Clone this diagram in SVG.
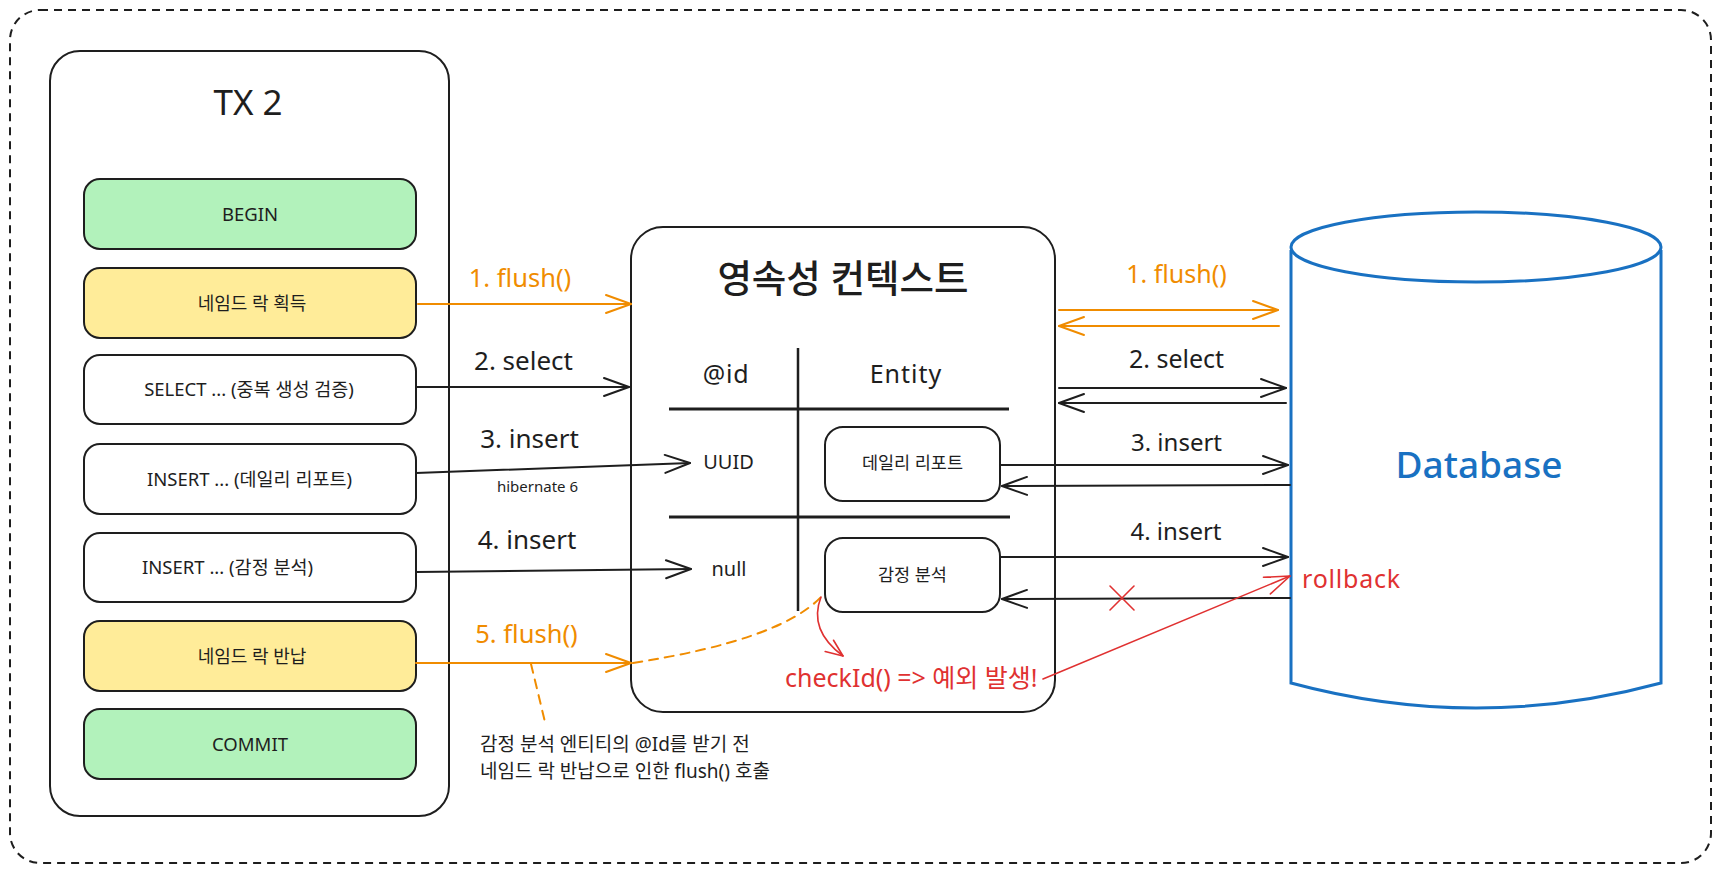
<svg xmlns="http://www.w3.org/2000/svg" width="1718" height="873" viewBox="0 0 1718 873">
<style>
.t{font-family:"Noto Sans","Noto Sans CJK KR",sans-serif;fill:#1e1e1e}
.m{text-anchor:middle}
.bx{stroke:#1e1e1e;stroke-width:2}
.ln{fill:none;stroke:#1e1e1e;stroke-width:2;stroke-linecap:round}
.or{stroke:#f08c00}
.rd{stroke:#e03131;stroke-width:1.6}
.ot{fill:#f08c00}
.rt{fill:#e03131}
</style>
<defs>
<marker id="ab" markerUnits="userSpaceOnUse" markerWidth="32" markerHeight="24" refX="27" refY="11" orient="auto"><path d="M2,2 L27,11 L2,20" fill="none" stroke="#1e1e1e" stroke-width="2" stroke-linecap="round" stroke-linejoin="round"/></marker>
<marker id="ao" markerUnits="userSpaceOnUse" markerWidth="32" markerHeight="24" refX="27" refY="11" orient="auto"><path d="M2,2 L27,11 L2,20" fill="none" stroke="#f08c00" stroke-width="2" stroke-linecap="round" stroke-linejoin="round"/></marker>
<marker id="ar" markerUnits="userSpaceOnUse" markerWidth="32" markerHeight="24" refX="27" refY="11" orient="auto"><path d="M2,2 L27,11 L2,20" fill="none" stroke="#e03131" stroke-width="1.6" stroke-linecap="round" stroke-linejoin="round"/></marker>
<marker id="ars" markerUnits="userSpaceOnUse" markerWidth="24" markerHeight="20" refX="19" refY="9" orient="auto"><path d="M2,2 L19,9 L2,16" fill="none" stroke="#e03131" stroke-width="1.6" stroke-linecap="round" stroke-linejoin="round"/></marker>
</defs>
<rect width="1718" height="873" fill="#ffffff"/>

<g id="frame">
<rect x="10" y="10" width="1701" height="853" rx="30" fill="none" stroke="#1e1e1e" stroke-width="2" stroke-dasharray="8 6"/>
</g>

<g id="tx2">
<rect x="50" y="51" width="399" height="765" rx="30" fill="#ffffff" class="bx"/>
<text x="248" y="115" class="t m" font-size="35">TX 2</text>
</g>

<g id="begin">
<rect x="84" y="179" width="332" height="70" rx="16" fill="#b2f2bb" class="bx"/>
<text x="250" y="221" class="t m" font-size="18.5">BEGIN</text>
</g>
<g id="lock-acquire">
<rect x="84" y="268" width="332" height="70" rx="16" fill="#ffec99" class="bx"/>
<text x="252" y="310" class="t m" font-size="18">네임드 락 획득</text>
</g>
<g id="select">
<rect x="84" y="355" width="332" height="69" rx="16" fill="#ffffff" class="bx"/>
<text x="249" y="396" class="t m" font-size="18.5">SELECT ... (중복 생성 검증)</text>
</g>
<g id="insert-daily">
<rect x="84" y="444" width="332" height="70" rx="16" fill="#ffffff" class="bx"/>
<text x="249.5" y="486" class="t m" font-size="18.5">INSERT ... (데일리 리포트)</text>
</g>
<g id="insert-emotion">
<rect x="84" y="533" width="332" height="69" rx="16" fill="#ffffff" class="bx"/>
<text x="142" y="574" class="t" font-size="18.5">INSERT ... (감정 분석)</text>
</g>
<g id="lock-release">
<rect x="84" y="621" width="332" height="70" rx="16" fill="#ffec99" class="bx"/>
<text x="252" y="663" class="t m" font-size="18">네임드 락 반납</text>
</g>
<g id="commit">
<rect x="84" y="709" width="332" height="70" rx="16" fill="#b2f2bb" class="bx"/>
<text x="250" y="751" class="t m" font-size="18.5">COMMIT</text>
</g>

<g id="persistence-context">
<rect x="631" y="227" width="424" height="485" rx="32" fill="#ffffff" class="bx"/>
<text x="843" y="292" class="t m" font-size="37.5" font-weight="500">영속성 컨텍스트</text>
<line x1="798" y1="348" x2="798" y2="611" stroke="#1e1e1e" stroke-width="2.5"/>
<line x1="669" y1="409" x2="1009" y2="409" stroke="#1e1e1e" stroke-width="2.8"/>
<line x1="669" y1="517" x2="1010" y2="517" stroke="#1e1e1e" stroke-width="2.8"/>
<text x="726" y="383" class="t m" font-size="25" letter-spacing="0.8">@id</text>
<text x="906" y="383" class="t m" font-size="25" letter-spacing="1">Entity</text>
<text x="728.5" y="469" class="t m" font-size="20">UUID</text>
<text x="729" y="576" class="t m" font-size="20">null</text>
</g>
<g id="entity-daily">
<rect x="825" y="427" width="175" height="74" rx="18" fill="#ffffff" class="bx"/>
<text x="912.5" y="469" class="t m" font-size="17.5">데일리 리포트</text>
</g>
<g id="entity-emotion">
<rect x="825" y="538" width="175" height="74" rx="18" fill="#ffffff" class="bx"/>
<text x="912.5" y="581" class="t m" font-size="17.5">감정 분석</text>
</g>

<g id="database">
<path d="M1291 250 L1291 683 Q1476 733 1661 683 L1661 250" fill="#ffffff" stroke="#1971c2" stroke-width="3"/>
<ellipse cx="1476" cy="247" rx="185" ry="35" fill="#ffffff" stroke="#1971c2" stroke-width="3"/>
<text x="1479" y="478" class="m" font-family="Noto Sans, Noto Sans CJK KR, sans-serif" font-size="37" font-weight="500" fill="#1971c2">Database</text>
</g>

<g id="connectors">
<path d="M418 304 L631 304" class="ln or" marker-end="url(#ao)"/>
<path d="M416 387 L629 387" class="ln" marker-end="url(#ab)"/>
<path d="M416 473 L690 463" class="ln" marker-end="url(#ab)"/>
<path d="M416 572 L691 569" class="ln" marker-end="url(#ab)"/>
<path d="M416 663 L631 663" class="ln or" marker-end="url(#ao)"/>
<path d="M633 663 Q780 640 821 597" class="ln or" stroke-dasharray="9 7"/>
<path d="M531 664 L545 722" class="ln or" stroke-dasharray="9 7"/>
<path d="M1059 310 L1278 310" class="ln or" marker-end="url(#ao)"/>
<path d="M1279 326 L1059 326" class="ln or" marker-end="url(#ao)"/>
<path d="M1059 388 L1286 388" class="ln" marker-end="url(#ab)"/>
<path d="M1286 403 L1059 403" class="ln" marker-end="url(#ab)"/>
<path d="M1000 465 L1288 465" class="ln" marker-end="url(#ab)"/>
<path d="M1290 485 L1002 486" class="ln" marker-end="url(#ab)"/>
<path d="M1000 557 L1288 557" class="ln" marker-end="url(#ab)"/>
<path d="M1290 598 L1002 599" class="ln" marker-end="url(#ab)"/>
<path d="M821 597 Q808 630 843 656" class="ln rd" marker-end="url(#ars)"/>
<path d="M1043 679 L1290 576" class="ln rd" marker-end="url(#ar)"/>
<path d="M1110 586 L1134 610 M1134 586 L1110 610" class="ln rd"/>
</g>

<g id="labels">
<text x="520" y="287" class="t m ot" font-size="25.5">1. flush()</text>
<text x="523.5" y="370" class="t m" font-size="26">2. select</text>
<text x="529.5" y="448" class="t m" font-size="26">3. insert</text>
<text x="537.5" y="492" class="t m" font-size="15">hibernate 6</text>
<text x="527" y="549" class="t m" font-size="26">4. insert</text>
<text x="526.5" y="643" class="t m ot" font-size="25.5">5. flush()</text>
<text x="1176.5" y="283" class="t m ot" font-size="25">1. flush()</text>
<text x="1176.5" y="368" class="t m" font-size="25">2. select</text>
<text x="1176.5" y="451" class="t m" font-size="24">3. insert</text>
<text x="1176" y="540" class="t m" font-size="24">4. insert</text>
<text x="785" y="687" class="t rt" font-size="25">checkId() =&gt; 예외 발생!</text>
<text x="1302" y="588" class="t rt" font-size="25" letter-spacing="0.8">rollback</text>
<text x="480" y="751" class="t" font-size="19">감정 분석 엔티티의 @Id를 받기 전</text>
<text x="480" y="778" class="t" font-size="19">네임드 락 반납으로 인한 flush() 호출</text>
</g>
</svg>
